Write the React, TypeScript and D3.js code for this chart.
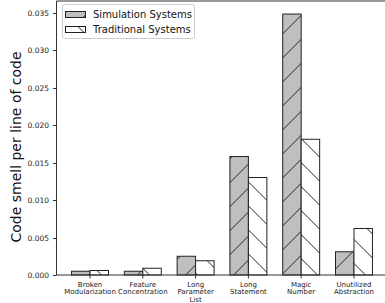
import React from "react";
import * as d3 from "d3";

const categories = [
  ["Broken", "Modularization"],
  ["Feature", "Concentration"],
  ["Long", "Parameter", "List"],
  ["Long", "Statement"],
  ["Magic", "Number"],
  ["Unutilized", "Abstraction"],
];
const simulation = [0.0005, 0.0005, 0.0025, 0.0158, 0.0348, 0.0031];
const traditional = [0.0006, 0.0009, 0.0019, 0.013, 0.0181, 0.0062];
const yTicks = [0, 0.005, 0.01, 0.015, 0.02, 0.025, 0.03, 0.035];
const seriesNames = ["Simulation Systems", "Traditional Systems"];

const W = 385;
const H = 303;
const barW = 0.35;
const font = "DejaVu Sans, sans-serif";
const edge = "#222";

const App: React.FC = () => {
  const n = categories.length;
  const pad = (n - 1 + 2 * barW) * 0.05;
  const x = d3
    .scaleLinear()
    .domain([-barW - pad, n - 1 + barW + pad])
    .range([56.5, 387.5]);
  const ymax = d3.max([...simulation, ...traditional])! * 1.05;
  const y = d3.scaleLinear().domain([0, ymax]).range([275, 1]);
  const fmt = d3.format(".3f");
  const bw = x(barW) - x(0);

  return (
    <svg
      width={W}
      height={H}
      style={{ position: "absolute", left: 0, top: 0, background: "#fff" }}
    >
      <defs>
        <pattern id="simHatch" patternUnits="userSpaceOnUse" width={24} height={24}>
          <rect width={24} height={24} fill="#bfbfbf" />
          <line x1={-1} y1={5.5} x2={5.5} y2={-1} stroke={edge} strokeWidth={1} />
          <line x1={3.5} y1={25} x2={25} y2={3.5} stroke={edge} strokeWidth={1} />
        </pattern>
        <pattern id="tradHatch" patternUnits="userSpaceOnUse" width={24} height={24}>
          <rect width={24} height={24} fill="#fff" />
          <line x1={17.5} y1={-1} x2={25} y2={6.5} stroke={edge} strokeWidth={1} />
          <line x1={-1} y1={4.5} x2={19.5} y2={25} stroke={edge} strokeWidth={1} />
        </pattern>
      </defs>

      {/* bars */}
      {simulation.map((v, i) => (
        <rect
          key={"s" + i}
          x={x(i - barW / 2) - bw / 2}
          y={y(v)}
          width={bw}
          height={y(0) - y(v)}
          fill="url(#simHatch)"
          stroke={edge}
          strokeWidth={1}
        />
      ))}
      {traditional.map((v, i) => (
        <rect
          key={"t" + i}
          x={x(i + barW / 2) - bw / 2}
          y={y(v)}
          width={bw}
          height={y(0) - y(v)}
          fill="url(#tradHatch)"
          stroke={edge}
          strokeWidth={1}
        />
      ))}

      {/* spines */}
      <line x1={56.5} y1={1} x2={56.5} y2={275} stroke="#333" strokeWidth={1} />
      <line x1={56.5} y1={275} x2={W} y2={275} stroke="#333" strokeWidth={1} />
      <line x1={56.5} y1={1} x2={W} y2={1} stroke="#333" strokeWidth={1} />

      {/* y ticks */}
      {yTicks.map((t) => (
        <g key={t} transform={`translate(0,${Math.round(y(t)) + 0.5})`}>
          <line x1={53} x2={56.5} stroke="#333" strokeWidth={1} />
          <text x={49} dy={2.7} textAnchor="end" fontSize={7.5} fontFamily={font} fill="#222">
            {fmt(t)}
          </text>
        </g>
      ))}

      {/* x ticks */}
      {categories.map((lines, i) => (
        <g key={i} transform={`translate(${x(i)},275)`}>
          <line y1={0} y2={3.5} stroke="#333" strokeWidth={1} />
          {lines.map((l, j) => (
            <text
              key={j}
              y={11.6 + j * 7.6}
              textAnchor="middle"
              fontSize={7}
              fontFamily={font}
              fill="#222"
            >
              {l}
            </text>
          ))}
        </g>
      ))}

      {/* y label */}
      <text
        transform="translate(20.5,147) rotate(-90)"
        textAnchor="middle"
        fontSize={14}
        fontFamily={font}
        fill="#111"
      >
        Code smell per line of code
      </text>

      {/* legend */}
      <rect x={62.5} y={4.5} width={132} height={34} rx={2} fill="#fff" stroke="#ccc" strokeWidth={1} />
      {seriesNames.map((name, i) => (
        <g key={name} transform={`translate(0,${i * 15})`}>
          <rect
            x={65.5}
            y={11.5}
            width={20}
            height={6}
            fill={i === 0 ? "url(#simHatch)" : "url(#tradHatch)"}
            stroke={edge}
            strokeWidth={1}
          />
          <text x={93} y={17.5} fontSize={10} fontFamily={font} fill="#111">
            {name}
          </text>
        </g>
      ))}
    </svg>
  );
};

export default App;
